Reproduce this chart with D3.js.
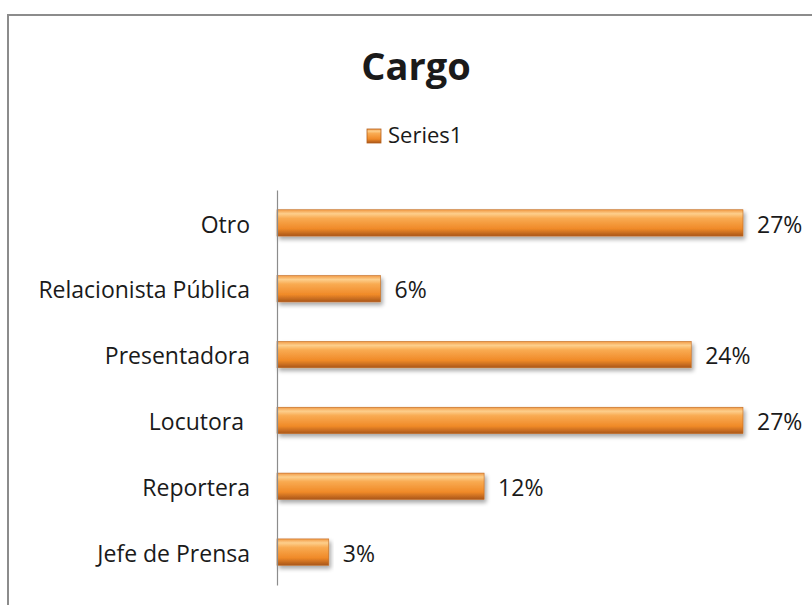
<!DOCTYPE html>
<html>
<head>
<meta charset="utf-8">
<script src="https://cdn.jsdelivr.net/npm/d3@7"></script>
<style>
  body { margin: 0; background: #fff; }
  text { font-family: "Open Sans", sans-serif; fill: #1a1a1a; white-space: pre; }
</style>
</head>
<body>
<div id="chart"></div>
<script>
const categories = ["Otro", "Relacionista Pública", "Presentadora", "Locutora ", "Reportera", "Jefe de Prensa"];
const values = [27, 6, 24, 27, 12, 3];
const valueLabels = ["27%", "6%", "24%", "27%", "12%", "3%"];
const seriesName = "Series1";

const width = 812, height = 605;
const margin = { top: 190, left: 277, bottom: 20 };

const svg = d3.select("#chart").append("svg")
  .attr("width", width).attr("height", height);

// bar gradient and shadow
const defs = svg.append("defs");
const grad = defs.append("linearGradient").attr("id", "barGrad")
  .attr("x1", 0).attr("y1", 0).attr("x2", 0).attr("y2", 1);
[["0%", "#f29a45"], ["15%", "#fdcf8c"], ["32%", "#f9ab52"], ["72%", "#f08a28"], ["100%", "#a9561a"]]
  .forEach(s => grad.append("stop").attr("offset", s[0]).attr("stop-color", s[1]));

const shadow = defs.append("filter").attr("id", "shadow")
  .attr("x", "-5%").attr("y", "-20%").attr("width", "115%").attr("height", "180%");
shadow.append("feGaussianBlur").attr("in", "SourceAlpha").attr("stdDeviation", 2);
shadow.append("feOffset").attr("dx", 2).attr("dy", 3).attr("result", "blur");
shadow.append("feComponentTransfer").append("feFuncA").attr("type", "linear").attr("slope", 0.35);
const merge = shadow.append("feMerge");
merge.append("feMergeNode");
merge.append("feMergeNode").attr("in", "SourceGraphic");

// outer frame
svg.append("path")
  .attr("d", `M8,${height} V15 H${width}`)
  .attr("fill", "none").attr("stroke", "#8c8c8c").attr("stroke-width", 2);

// title
svg.append("text").attr("x", 416).attr("y", 80)
  .attr("text-anchor", "middle").style("font-size", "38px").style("font-weight", "bold")
  .text("Cargo");

// legend
const legend = svg.append("g").attr("transform", "translate(367,129)");
legend.append("rect").attr("width", 14).attr("height", 14)
  .attr("fill", "url(#barGrad)").attr("stroke", "#b35f1c").attr("stroke-width", 0.8);
legend.append("text").attr("x", 21).attr("y", 14).style("font-size", "22px").text(seriesName);

const x = d3.scaleLinear().domain([0, 27]).range([margin.left, 743]);
const y = d3.scaleBand().domain(categories).range([margin.top, height - margin.bottom])
  .paddingInner(0.6).paddingOuter(0.3);

// bars
svg.append("g").selectAll("rect")
  .data(values)
  .join("rect")
  .attr("x", x(0))
  .attr("y", (d, i) => y(categories[i]))
  .attr("width", d => x(d) - x(0))
  .attr("height", y.bandwidth())
  .attr("fill", "url(#barGrad)")
  .attr("stroke", "#c06a22").attr("stroke-width", 0.6)
  .attr("filter", "url(#shadow)");

// value labels
svg.append("g").selectAll("text")
  .data(values)
  .join("text")
  .attr("x", d => x(d) + 14)
  .attr("y", (d, i) => y(categories[i]) + y.bandwidth() / 2)
  .attr("dy", "0.42em")
  .style("font-size", "23px")
  .text((d, i) => valueLabels[i]);

// category axis
const yAxis = d3.axisLeft(y).tickSize(0).tickPadding(27);
const gY = svg.append("g").attr("transform", `translate(${margin.left},0)`).call(yAxis);
gY.select(".domain").attr("stroke", "#8c8c8c").attr("stroke-width", 1.2);
gY.selectAll("text").attr("dy", "0.42em")
  .style("font-size", "23px").style("font-family", "'Open Sans', sans-serif")
  .style("white-space", "pre").attr("fill", "#1a1a1a");
</script>
</body>
</html>
